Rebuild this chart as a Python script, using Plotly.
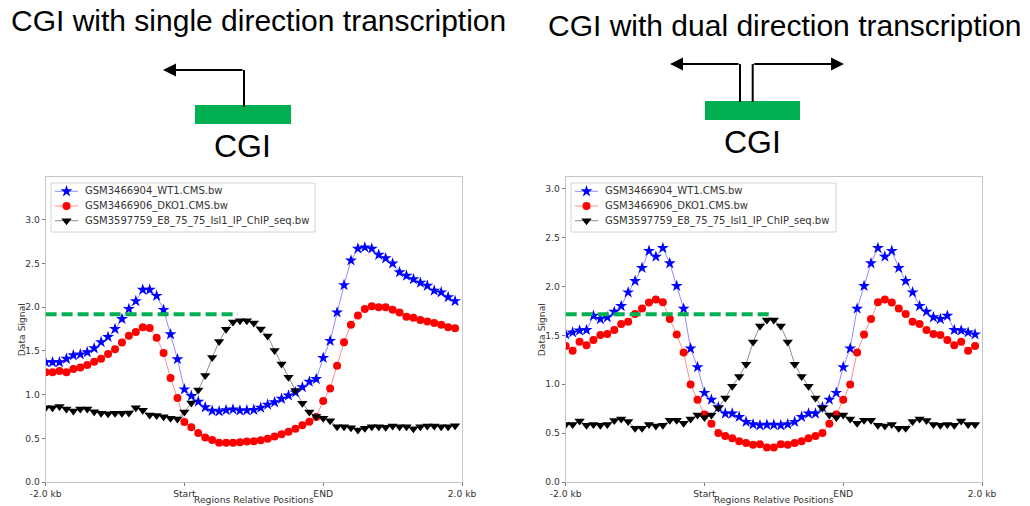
import plotly.graph_objects as go

# Profile bins: 20 upstream, 20 region body, 20 downstream
bins = list(range(60))
tick_pos = [0, 20, 40, 60]
tick_text = ["-2.0 kb", "Start", "END", "2.0 kb"]
series_names = ["GSM3466904_WT1.CMS.bw", "GSM3466906_DKO1.CMS.bw",
                "GSM3597759_E8_75_75_Isl1_IP_ChIP_seq.bw"]

# CGI with single direction transcription
single_wt1 = [1.37, 1.37, 1.37, 1.41, 1.45, 1.46, 1.485, 1.53, 1.60, 1.66,
              1.75, 1.865, 1.98, 2.07, 2.20, 2.20, 2.13, 1.97, 1.69, 1.405,
              1.06, 0.985, 0.92, 0.855, 0.815, 0.808, 0.822, 0.83, 0.818, 0.82,
              0.825, 0.85, 0.885, 0.912, 0.952, 0.99, 1.025, 1.085, 1.147, 1.178,
              1.42, 1.615, 1.94, 2.253, 2.535, 2.67, 2.684, 2.67, 2.60, 2.56,
              2.50, 2.40, 2.36, 2.32, 2.28, 2.245, 2.19, 2.17, 2.115, 2.07]
single_dko1 = [1.256, 1.256, 1.27, 1.256, 1.294, 1.31, 1.34, 1.375, 1.41, 1.466,
               1.52, 1.595, 1.673, 1.717, 1.772, 1.762, 1.65, 1.477, 1.189, 0.96,
               0.687, 0.627, 0.561, 0.51, 0.48, 0.45, 0.45, 0.45, 0.455, 0.462,
               0.466, 0.477, 0.495, 0.52, 0.546, 0.576, 0.608, 0.649, 0.69, 0.744,
               0.928, 1.07, 1.33, 1.6, 1.80, 1.905, 1.98, 2.01, 2.00, 2.00,
               1.97, 1.94, 1.89, 1.88, 1.855, 1.836, 1.82, 1.80, 1.77, 1.76]
single_isl1 = [0.85, 0.85, 0.863, 0.836, 0.813, 0.836, 0.836, 0.805, 0.787, 0.78,
               0.787, 0.787, 0.79, 0.85, 0.822, 0.767, 0.76, 0.748, 0.73, 0.722,
               0.80, 0.903, 1.054, 1.22, 1.424, 1.607, 1.748, 1.83, 1.844, 1.844,
               1.82, 1.75, 1.67, 1.504, 1.35, 1.20, 1.046, 0.90, 0.80, 0.75,
               0.73, 0.70, 0.633, 0.633, 0.622, 0.596, 0.615, 0.633, 0.633, 0.626,
               0.64, 0.633, 0.633, 0.61, 0.633, 0.64, 0.64, 0.633, 0.633, 0.645]

# CGI with dual direction transcription
dual_wt1 = [1.51, 1.53, 1.55, 1.555, 1.70, 1.667, 1.685, 1.742, 1.80, 1.94,
            2.056, 2.19, 2.364, 2.305, 2.394, 2.237, 2.005, 1.773, 1.365, 1.175,
            0.912, 0.842, 0.765, 0.70, 0.70, 0.666, 0.615, 0.59, 0.58, 0.585,
            0.585, 0.58, 0.59, 0.615, 0.666, 0.70, 0.70, 0.765, 0.842, 0.912,
            1.175, 1.365, 1.773, 2.005, 2.237, 2.394, 2.305, 2.364, 2.19, 2.056,
            1.94, 1.80, 1.742, 1.685, 1.667, 1.70, 1.555, 1.55, 1.53, 1.51]
dual_dko1 = [1.39, 1.342, 1.434, 1.40, 1.452, 1.505, 1.515, 1.555, 1.616, 1.64,
             1.718, 1.776, 1.836, 1.866, 1.84, 1.667, 1.51, 1.325, 0.998, 0.842,
             0.69, 0.596, 0.502, 0.47, 0.448, 0.418, 0.40, 0.38, 0.386, 0.352,
             0.352, 0.386, 0.38, 0.40, 0.418, 0.448, 0.47, 0.502, 0.596, 0.69,
             0.842, 0.998, 1.325, 1.51, 1.667, 1.84, 1.866, 1.836, 1.776, 1.718,
             1.64, 1.616, 1.555, 1.515, 1.505, 1.452, 1.40, 1.434, 1.342, 1.39]
dual_isl1 = [0.588, 0.588, 0.625, 0.581, 0.588, 0.581, 0.588, 0.628, 0.645, 0.62,
             0.55, 0.55, 0.588, 0.574, 0.581, 0.632, 0.632, 0.60, 0.645, 0.685,
             0.66, 0.685, 0.756, 0.86, 0.98, 1.078, 1.205, 1.432, 1.595, 1.657,
             1.657, 1.595, 1.432, 1.205, 1.078, 0.98, 0.86, 0.756, 0.685, 0.66,
             0.685, 0.645, 0.60, 0.632, 0.632, 0.581, 0.574, 0.588, 0.55, 0.55,
             0.62, 0.645, 0.628, 0.588, 0.581, 0.588, 0.581, 0.625, 0.588, 0.588]

# Level of the Isl1 peak marked by the dashed guide, and where the guide stops
single_guide = (1.92, 27.7)
dual_guide = (1.715, 29.9)

W, H = 1030, 506
GREEN = "#00b050"
AX_FONT = "DejaVu Sans"
TITLE_FONT = "Liberation Sans"
TEXT_GREY = "#333333"


def px(x):
    return x / W


def py(y):
    return 1 - y / H


styles = [
    dict(symbol="star", size=9, color="#0000ff", line="rgba(0,0,255,0.45)"),
    dict(symbol="circle", size=8, color="#ff0000", line="rgba(255,0,0,0.45)"),
    dict(symbol="triangle-down", size=9, color="#000000", line="rgba(0,0,0,0.45)"),
]

fig = go.Figure()

panels = [
    ("x", "y", [single_wt1, single_dko1, single_isl1]),
    ("x2", "y2", [dual_wt1, dual_dko1, dual_isl1]),
]
for xa, ya, data in panels:
    for name, vals, st in zip(series_names, data, styles):
        fig.add_trace(go.Scatter(
            x=bins, y=vals, name=name, mode="lines+markers",
            xaxis=xa, yaxis=ya, showlegend=False,
            line=dict(color=st["line"], width=1),
            marker=dict(symbol=st["symbol"], size=st["size"], color=st["color"],
                        line=dict(width=0)),
        ))

axis_common = dict(
    showline=True, mirror=True, linecolor="#c4c4c4", linewidth=1,
    showgrid=False, zeroline=False, ticks="outside", ticklen=3,
    tickcolor="#777", automargin=False,
    tickfont=dict(family=AX_FONT, size=9.2, color=TEXT_GREY),
)
x_common = dict(axis_common, range=[0, 60], tickmode="array",
                tickvals=tick_pos, ticktext=tick_text)
y_common = dict(axis_common, tickmode="linear", tick0=0, dtick=0.5,
                tickformat=".1f")

left_dom = [px(45.6), px(462)]
right_dom = [px(565.7), px(982)]
y_dom = [py(482), py(177)]

fig.update_layout(
    width=W, height=H, margin=dict(l=0, r=0, t=0, b=0, autoexpand=False),
    paper_bgcolor="white", plot_bgcolor="rgba(0,0,0,0)", showlegend=False,
    xaxis=dict(x_common, domain=left_dom, anchor="y"),
    yaxis=dict(y_common, domain=y_dom, range=[0, 3.49], anchor="x"),
    xaxis2=dict(x_common, domain=right_dom, anchor="y2"),
    yaxis2=dict(y_common, domain=y_dom, range=[0, 3.12], anchor="x2"),
    # pixel-space overlay used for the legend keys
    xaxis3=dict(domain=[0, 1], range=[0, W], visible=False, fixedrange=True),
    yaxis3=dict(domain=[0, 1], range=[H, 0], visible=False, fixedrange=True,
                anchor="x3"),
)

# Legend boxes: frame, key samples and labels
row_y = [191.3, 206.0, 220.7]
for box_left, box_right in [(51, 315), (571, 836)]:
    fig.add_shape(type="rect", xref="paper", yref="paper",
                  x0=px(box_left), x1=px(box_right), y0=py(232), y1=py(183),
                  line=dict(color="#d4d4d4", width=1), fillcolor="rgba(255,255,255,0.8)",
                  layer="below")
    key_x0, key_x1 = box_left + 4, box_left + 27
    for name, st, ry in zip(series_names, styles, row_y):
        fig.add_trace(go.Scatter(
            x=[key_x0, key_x1], y=[ry, ry], mode="lines", xaxis="x3", yaxis="y3",
            showlegend=False, hoverinfo="skip",
            line=dict(color=st["line"], width=1)))
        fig.add_trace(go.Scatter(
            x=[(key_x0 + key_x1) / 2], y=[ry], mode="markers", xaxis="x3", yaxis="y3",
            showlegend=False, hoverinfo="skip",
            marker=dict(symbol=st["symbol"], size=st["size"], color=st["color"],
                        line=dict(width=0))))
        fig.add_annotation(text=name, x=px(box_left + 32), y=py(ry), xref="paper",
                           yref="paper", xanchor="left", yanchor="middle",
                           showarrow=False,
                           font=dict(family=AX_FONT, size=10, color=TEXT_GREY))

# Dashed guides at the Isl1 peak level
for (level, stop), xa, ya in [(single_guide, "x", "y"), (dual_guide, "x2", "y2")]:
    fig.add_shape(type="line", xref=xa, yref=ya, x0=0, x1=stop, y0=level, y1=level,
                  line=dict(color=GREEN, width=4, dash="11px,5px"))

# Axis labels
for cx in [(45.6 + 462) / 2, (565.7 + 982) / 2]:
    fig.add_annotation(text="Regions Relative Positions", x=px(cx), y=py(499),
                       xref="paper", yref="paper", xanchor="center", yanchor="middle",
                       showarrow=False,
                       font=dict(family=AX_FONT, size=9.2, color=TEXT_GREY))
for lx in [21.7, 541.7]:
    fig.add_annotation(text="Data Signal", x=px(lx), y=py(329.5), textangle=-90,
                       xref="paper", yref="paper", xanchor="center", yanchor="middle",
                       showarrow=False,
                       font=dict(family=AX_FONT, size=9.2, color=TEXT_GREY))

# Panel headings
fig.add_annotation(text="CGI with single direction transcription", x=px(258), y=py(21),
                   xref="paper", yref="paper", xanchor="center", yanchor="middle",
                   showarrow=False,
                   font=dict(family=TITLE_FONT, size=30, color="black"))
fig.add_annotation(text="CGI with dual direction transcription", x=px(785), y=py(25),
                   xref="paper", yref="paper", xanchor="center", yanchor="middle",
                   showarrow=False,
                   font=dict(family=TITLE_FONT, size=30, color="black"))

# CGI schematics: island bar, transcription start lines and arrows
for x0, y0, x1, y1 in [(195, 105, 291, 124), (705, 101, 800, 120)]:
    fig.add_shape(type="rect", xref="paper", yref="paper",
                  x0=px(x0), x1=px(x1), y0=py(y1), y1=py(y0),
                  fillcolor=GREEN, line=dict(width=0))


def tss_arrow(x_stem, y_bottom, y_top, x_tip):
    fig.add_shape(type="line", xref="paper", yref="paper",
                  x0=px(x_stem), x1=px(x_stem), y0=py(y_bottom), y1=py(y_top),
                  line=dict(color="black", width=2))
    fig.add_annotation(x=px(x_tip), y=py(y_top), xref="paper", yref="paper",
                       ax=x_stem - x_tip, ay=0, text="", showarrow=True,
                       arrowhead=2, arrowsize=1.3, arrowwidth=2, arrowcolor="black")


tss_arrow(244, 107, 70, 163)
tss_arrow(740, 102, 64, 670)
tss_arrow(752.7, 102, 64, 844)

for cx, cy in [(242.5, 146), (752, 142)]:
    fig.add_annotation(text="CGI", x=px(cx), y=py(cy), xref="paper", yref="paper",
                       xanchor="center", yanchor="middle", showarrow=False,
                       font=dict(family=TITLE_FONT, size=32, color="black"))

fig.write_html("out.html")
